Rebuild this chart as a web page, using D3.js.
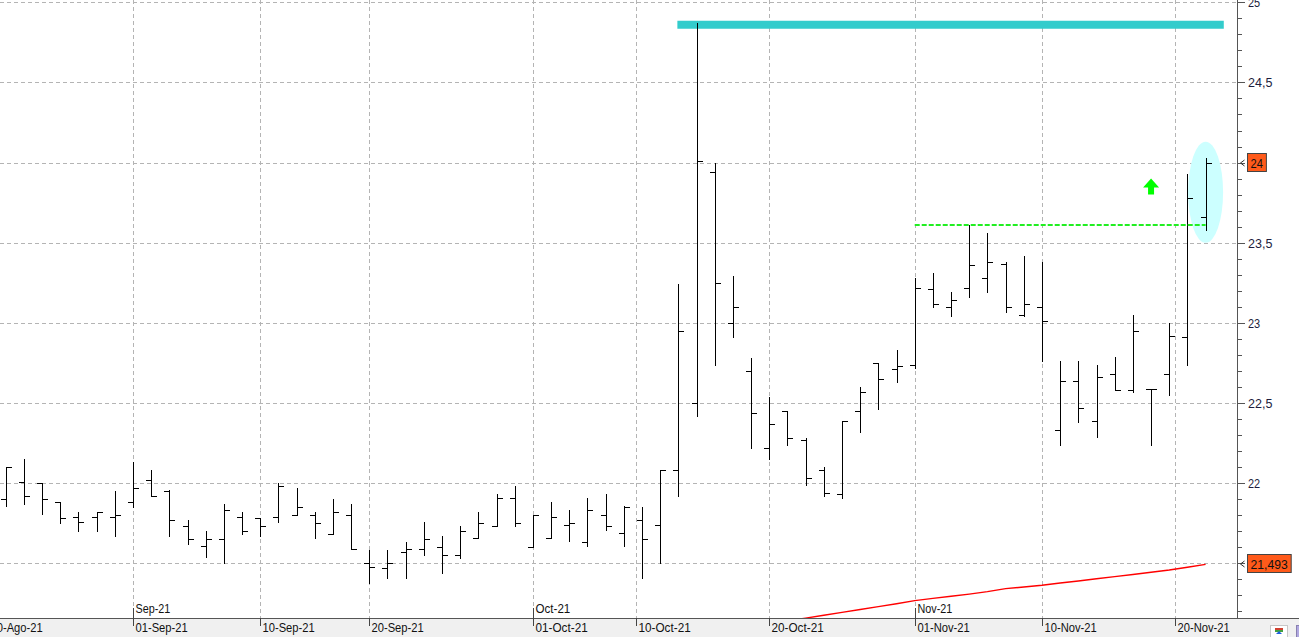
<!DOCTYPE html>
<html><head><meta charset="utf-8">
<script src="https://cdn.jsdelivr.net/npm/d3@7"></script>
<style>html,body{margin:0;padding:0;background:#fff;overflow:hidden}</style>
</head><body><svg id="c" width="1299" height="637"></svg>
<script>
// ---- data ----
const dates = ["2021-08-23","2021-08-24","2021-08-25","2021-08-26","2021-08-27","2021-08-30","2021-08-31",
"2021-09-01","2021-09-02","2021-09-03","2021-09-06","2021-09-07","2021-09-08","2021-09-09","2021-09-10",
"2021-09-13","2021-09-14","2021-09-15","2021-09-16","2021-09-17","2021-09-20","2021-09-21","2021-09-22",
"2021-09-23","2021-09-24","2021-09-27","2021-09-28","2021-09-29","2021-09-30","2021-10-01","2021-10-04",
"2021-10-05","2021-10-06","2021-10-07","2021-10-08","2021-10-11","2021-10-12","2021-10-13","2021-10-14",
"2021-10-15","2021-10-18","2021-10-19","2021-10-20","2021-10-21","2021-10-22","2021-10-25","2021-10-26",
"2021-10-27","2021-10-28","2021-10-29","2021-11-01","2021-11-02","2021-11-03","2021-11-04","2021-11-05",
"2021-11-08","2021-11-09","2021-11-10","2021-11-11","2021-11-12","2021-11-15","2021-11-16","2021-11-17",
"2021-11-18","2021-11-19","2021-11-22","2021-11-23"];
const open  = [21.90,22.01,22.00,21.88,21.79,21.79,21.79,21.88,22.02,21.95,21.73,21.61,21.65,21.79,21.78,21.79,21.80,21.80,21.68,21.80,21.50,21.47,21.57,21.59,21.60,21.55,21.66,21.73,21.91,21.60,21.66,21.74,21.63,21.80,21.69,21.77,21.74,22.08,22.50,23.94,23.00,22.70,22.22,22.45,22.27,22.08,21.93,22.45,22.75,22.71,22.74,23.21,23.10,23.22,23.28,23.37,23.05,23.10,22.33,22.64,22.39,22.68,22.58,22.59,22.68,22.91,23.66];
const high  = [22.10,22.15,22.00,21.88,21.82,21.82,21.95,22.13,22.08,21.96,21.77,21.70,21.87,21.82,21.78,22.00,21.97,21.82,21.90,21.87,21.58,21.58,21.63,21.76,21.67,21.73,21.82,21.93,21.98,21.80,21.88,21.83,21.91,21.93,21.86,21.85,22.08,23.24,24.87,24.00,23.29,22.78,22.54,22.45,22.28,22.10,22.39,22.60,22.75,22.83,23.28,23.31,23.19,23.61,23.56,23.38,23.42,23.38,22.76,22.76,22.74,22.79,23.05,22.59,23.00,23.93,24.03];
const low   = [21.86,21.87,21.81,21.75,21.70,21.70,21.67,21.85,21.92,21.67,21.62,21.54,21.50,21.68,21.67,21.76,21.80,21.66,21.68,21.59,21.38,21.41,21.41,21.55,21.44,21.53,21.66,21.73,21.73,21.60,21.66,21.64,21.61,21.71,21.61,21.41,21.50,21.92,22.42,22.74,22.91,22.22,22.15,22.24,21.99,21.92,21.91,22.32,22.46,22.63,22.72,23.10,23.04,23.16,23.19,23.07,23.04,22.76,22.24,22.38,22.29,22.58,22.57,22.24,22.55,22.74,23.58];
const close = [22.10,21.92,21.90,21.78,21.76,21.82,21.80,21.97,21.92,21.77,21.65,21.65,21.83,21.70,21.73,21.98,21.85,21.75,21.82,21.59,21.48,21.50,21.59,21.65,21.55,21.70,21.75,21.91,21.75,21.80,21.79,21.75,21.83,21.73,21.85,21.65,22.08,22.95,24.01,23.25,23.10,22.44,22.37,22.28,22.03,21.94,22.39,22.57,22.65,22.73,23.22,23.12,23.14,23.36,23.38,23.10,23.12,23.01,22.64,22.47,22.66,22.58,22.95,22.59,22.92,23.78,24.00];

const maDates  = ["2021-10-21","2021-10-22","2021-10-25","2021-10-26","2021-10-27","2021-10-28","2021-10-29",
"2021-11-01","2021-11-02","2021-11-03","2021-11-04","2021-11-05","2021-11-08","2021-11-09","2021-11-10",
"2021-11-11","2021-11-12","2021-11-15","2021-11-16","2021-11-17","2021-11-18","2021-11-19","2021-11-22","2021-11-23"];
const maValues = [21.140,21.158,21.176,21.194,21.212,21.230,21.248,21.267,21.281,21.294,21.308,21.323,21.342,21.352,
21.363,21.377,21.390,21.404,21.417,21.430,21.444,21.458,21.475,21.493];

const yTicks = [21.5,22,22.5,23,23.5,24,24.5,25];
const yTickLabels = ["21,5","22","22,5","23","23,5","24","24,5","25"];
const dateTicks = ["2021-08-20","2021-09-01","2021-09-10","2021-09-20","2021-10-01","2021-10-10","2021-10-20","2021-11-01","2021-11-10","2021-11-20"];
const dateTickLabels = ["20-Ago-21","01-Sep-21","10-Sep-21","20-Sep-21","01-Oct-21","10-Oct-21","20-Oct-21","01-Nov-21","10-Nov-21","20-Nov-21"];
const monthTicks = ["2021-09-01","2021-10-01","2021-11-01"];
const monthLabels = ["Sep-21","Oct-21","Nov-21"];

const resistanceLevel = 24.86;          // cyan line
const resistanceFrom = "2021-10-13", resistanceToExtra = 1;
const breakoutLevel = 23.61;            // green dashed
const breakoutFrom = "2021-11-01", breakoutTo = "2021-11-23";
const arrowDate = "2021-11-18", arrowValue = 23.90;
const highlightDate = "2021-11-23", highlightLow = 23.50, highlightHigh = 24.13;
const lastPrice = 24, lastPriceLabel = "24";
const maLast = 21.493, maLastLabel = "21,493";

// ---- scales ----
const W = 1299, H = 637, plotR = 1237, plotB = 618;
const x = d3.scaleLinear().domain([0, dates.length - 1]).range([5.7, 1205.6]);
const y = d3.scaleLinear().domain([21.5, 25]).range([563.3, 2.3]);
const parse = d3.timeParse("%Y-%m-%d");
const dts = dates.map(parse);
const idxOf = s => dates.indexOf(s);
function fracIndex(s) {
  const d = parse(s);
  if (d < dts[0]) {
    let n = 0; const c = new Date(d);
    while (c < dts[0]) { const wd = c.getDay(); if (wd !== 0 && wd !== 6) n++; c.setDate(c.getDate() + 1); }
    return -n;
  }
  for (let i = 0; i < dts.length; i++) {
    if (+dts[i] === +d) return i;
    if (dts[i] > d) { const p = dts[i-1]; return i - 1 + (d - p) / (dts[i] - p); }
  }
  return dts.length - 1;
}
const cx = v => Math.round(v) + 0.5;

const svg = d3.select("#c");
svg.append("rect").attr("width", W).attr("height", H).attr("fill", "#fff");
svg.append("defs").append("clipPath").attr("id", "pc").append("rect")
  .attr("x", 0).attr("y", 0).attr("width", plotR).attr("height", plotB);

const grid = svg.append("g").attr("stroke", "#b4b4b4").attr("stroke-dasharray", "4,3")
  .attr("shape-rendering", "crispEdges");
yTicks.forEach(v => grid.append("line").attr("x1", 0).attr("x2", plotR)
  .attr("y1", cx(y(v))).attr("y2", cx(y(v))));
dateTicks.forEach(s => { const xx = cx(x(fracIndex(s)));
  grid.append("line").attr("x1", xx).attr("x2", xx).attr("y1", 0).attr("y2", plotB); });

const plot = svg.append("g").attr("clip-path", "url(#pc)");

// highlight ellipse
const hi = idxOf(highlightDate);
plot.append("ellipse").attr("cx", x(hi)).attr("cy", (y(highlightLow) + y(highlightHigh)) / 2)
  .attr("rx", 17.5).attr("ry", (y(highlightLow) - y(highlightHigh)) / 2).attr("fill", "#ccffff");

// cyan resistance
plot.append("line").attr("x1", x(idxOf(resistanceFrom)) - 1)
  .attr("x2", x(dates.length - 1 + resistanceToExtra))
  .attr("y1", y(resistanceLevel)).attr("y2", y(resistanceLevel))
  .attr("stroke", "#33cccc").attr("stroke-width", 8);

// moving average line
const maLine = d3.line().x((d, i) => x(idxOf(maDates[i]))).y(d => y(d));
plot.append("path").datum(maValues).attr("d", maLine).attr("fill", "none")
  .attr("stroke", "#ff0000").attr("stroke-width", 1.4);

// OHLC bars
const bars = plot.append("g").attr("stroke", "#000").attr("stroke-width", 1).attr("shape-rendering", "crispEdges");
dates.forEach((d, i) => {
  const xx = cx(x(i));
  bars.append("line").attr("x1", xx).attr("x2", xx).attr("y1", Math.round(y(high[i]))).attr("y2", Math.round(y(low[i])) + 1);
  bars.append("line").attr("x1", xx - 5.5).attr("x2", xx).attr("y1", cx(y(open[i]))).attr("y2", cx(y(open[i])));
  bars.append("line").attr("x1", xx).attr("x2", xx + 5.5).attr("y1", cx(y(close[i]))).attr("y2", cx(y(close[i])));
});

// green dashed breakout
plot.append("line").attr("x1", x(idxOf(breakoutFrom))).attr("x2", x(idxOf(breakoutTo)))
  .attr("y1", y(breakoutLevel)).attr("y2", y(breakoutLevel))
  .attr("stroke", "#22ee22").attr("stroke-width", 2).attr("stroke-dasharray", "5,2");

// green arrow
const ax = x(idxOf(arrowDate)), ay = y(arrowValue);
plot.append("path").attr("fill", "#00ff00")
  .attr("d", `M${ax-8},${ay+9} L${ax},${ay} L${ax+8},${ay+9} L${ax+3},${ay+9} L${ax+3},${ay+16} L${ax-3},${ay+16} L${ax-3},${ay+9} Z`);

// right axis
const ra = svg.append("g").attr("shape-rendering", "crispEdges");
ra.append("line").attr("x1", plotR + 0.5).attr("x2", plotR + 0.5).attr("y1", 0).attr("y2", plotB).attr("stroke", "#555");
const minor = d3.range(Math.ceil(y.invert(plotB) * 10), Math.floor(y.invert(0) * 10) + 1).map(v => v / 10);
minor.forEach(v => {
  const major = Math.abs(v * 2 - Math.round(v * 2)) < 1e-6;
  ra.append("line").attr("x1", plotR).attr("x2", plotR + (major ? 8 : 5))
    .attr("y1", cx(y(v))).attr("y2", cx(y(v))).attr("stroke", "#555");
});
// tick labels (those covered by a value badge are hidden, as in the original)
const badgeVals = [lastPrice, maLast];
const lab = svg.append("g").attr("font-family", "Liberation Sans, Arial, sans-serif").attr("font-size", 13).attr("fill", "#1c1c3c");
yTicks.forEach((v, i) => {
  if (badgeVals.some(b => Math.abs(y(b) - y(v)) < 14)) return;
  lab.append("text").attr("x", 1248).attr("y", y(v) + 5)
    .attr("textLength", yTickLabels[i].length * 6.1).attr("lengthAdjust", "spacingAndGlyphs").text(yTickLabels[i]);
});

function badge(v, txt) {
  const yy = Math.round(y(v));
  const w = txt.length * 6.2 + 6.5;
  svg.append("path").attr("d", `M1244.5,${yy-3} L1240.5,${yy} L1244.5,${yy+3}`).attr("fill", "none").attr("stroke", "#333");
  svg.append("rect").attr("x", 1247.5).attr("y", yy - 9.5).attr("width", w).attr("height", 18)
    .attr("fill", "#ff5a1a").attr("stroke", "#444");
  svg.append("text").attr("x", 1250.5).attr("y", yy + 5).attr("font-family", "Liberation Sans, Arial, sans-serif")
    .attr("font-size", 13).attr("fill", "#111").attr("textLength", txt.length * 6.2).attr("lengthAdjust", "spacingAndGlyphs").text(txt);
}
badge(lastPrice, lastPriceLabel);
badge(maLast, maLastLabel);

// bottom band
svg.append("rect").attr("x", 0).attr("y", plotB).attr("width", W).attr("height", H - plotB).attr("fill", "#f0f0f0");
svg.append("line").attr("x1", 0).attr("x2", W).attr("y1", plotB + 0.5).attr("y2", plotB + 0.5).attr("stroke", "#555");
const xa = svg.append("g").attr("font-family", "Liberation Sans, Arial, sans-serif").attr("font-size", 12.5).attr("fill", "#111");
dateTicks.forEach((s, i) => {
  const xx = cx(x(fracIndex(s)));
  xa.append("line").attr("x1", xx).attr("x2", xx).attr("y1", plotB).attr("y2", plotB + 8).attr("stroke", "#444").attr("shape-rendering", "crispEdges");
  xa.append("text").attr("x", xx + 2).attr("y", 632).attr("textLength", dateTickLabels[i].length * 5.8)
    .attr("lengthAdjust", "spacingAndGlyphs").text(dateTickLabels[i]);
});
monthTicks.forEach((s, i) => {
  const xx = cx(x(fracIndex(s)));
  xa.append("line").attr("x1", xx).attr("x2", xx).attr("y1", plotB - 10).attr("y2", plotB).attr("stroke", "#444").attr("shape-rendering", "crispEdges");
  xa.append("text").attr("x", xx + 2).attr("y", 613).attr("textLength", monthLabels[i].length * 5.8)
    .attr("lengthAdjust", "spacingAndGlyphs").text(monthLabels[i]);
});

// corner icons
svg.append("rect").attr("x", 1270.5).attr("y", 625.5).attr("width", 17).attr("height", 12).attr("fill", "#fff").attr("stroke", "#c8c8c8");
svg.append("rect").attr("x", 1275).attr("y", 628).attr("width", 8).attr("height", 2).attr("fill", "#d04030");
svg.append("rect").attr("x", 1275).attr("y", 630).attr("width", 8).attr("height", 2).attr("fill", "#40a040");
svg.append("path").attr("d", "M1276,634 L1279,631 L1282,634 Z").attr("fill", "#2060e0");
svg.append("rect").attr("x", 1296.5).attr("y", 625.5).attr("width", 5).attr("height", 12).attr("fill", "#b0a8e0").attr("stroke", "#8880b0");
</script></body></html>
